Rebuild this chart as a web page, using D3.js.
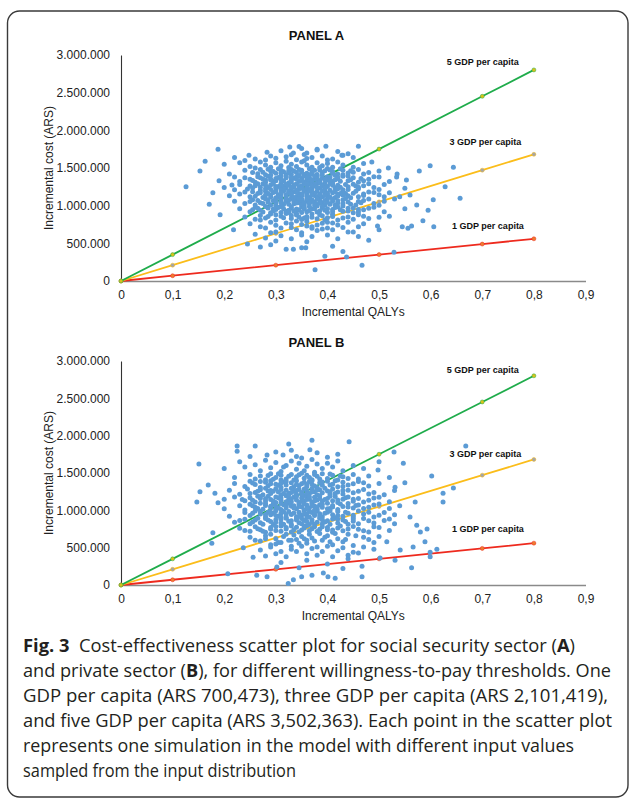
<!DOCTYPE html>
<html><head><meta charset="utf-8">
<script src="https://cdn.jsdelivr.net/npm/d3@7"></script>
<style>body{margin:0;background:#fff}svg{display:block}</style>
</head><body>
<svg id="chart" width="629" height="799"></svg>
<script>
// ---------- data ----------
const xTicks = [0, 0.1, 0.2, 0.3, 0.4, 0.5, 0.6, 0.7, 0.8, 0.9];
const yTicks = [0, 500000, 1000000, 1500000, 2000000, 2500000, 3000000];
const panelTitles = ["PANEL A", "PANEL B"];
const thresholdNames = ["1 GDP per capita", "3 GDP per capita", "5 GDP per capita"];
const thresholdSlopes = [700473, 2101419, 3502363];
const lineMarkerQalys = [0, 0.1, 0.3, 0.5, 0.7, 0.8];
const labelQalys = [0.711, 0.706, 0.701];
const labelCostsA = [730000, 1845000, 2907000];
const labelCostsB = [746000, 1755000, 2880000];

// scatter points: [incremental QALYs, incremental cost in thousands ARS]
const panelA = [
[0.188,1750],[0.283,1710],[0.327,1780],[0.334,1700],[0.38,1750],[0.397,1790],[0.46,1790],[0.43,1670],[0.38,1740],[0.35,1760],[0.31,1730],[0.42,1720],[0.36,1700],[0.345,1785],
[0.248,1670],[0.163,1590],[0.22,1640],[0.26,1620],[0.29,1660],[0.30,1630],[0.32,1650],[0.34,1610],[0.355,1680],[0.37,1640],[0.39,1660],[0.41,1620],[0.44,1690],[0.45,1640],[0.486,1580],[0.428,1670],[0.33,1675],[0.28,1605],[0.36,1625],[0.40,1605],[0.24,1600],
[0.153,1460],[0.20,1550],[0.23,1570],[0.25,1520],[0.27,1580],[0.28,1540],[0.29,1510],[0.30,1570],[0.31,1530],[0.32,1590],[0.33,1550],[0.34,1520],[0.35,1580],[0.36,1540],[0.37,1510],[0.38,1570],[0.39,1530],[0.40,1560],[0.41,1510],[0.42,1580],[0.43,1540],[0.45,1510],[0.47,1560],[0.518,1500],[0.599,1530],[0.644,1510],[0.26,1500],[0.325,1505],[0.355,1595],[0.385,1505],
[0.21,1420],[0.24,1470],[0.255,1440],[0.27,1480],[0.28,1410],[0.29,1460],[0.30,1430],[0.305,1490],[0.315,1450],[0.32,1410],[0.33,1480],[0.34,1440],[0.345,1400],[0.35,1470],[0.36,1430],[0.365,1490],[0.37,1450],[0.38,1415],[0.385,1475],[0.39,1440],[0.40,1495],[0.41,1455],[0.42,1420],[0.43,1470],[0.44,1435],[0.46,1480],[0.48,1440],[0.50,1460],[0.578,1460],[0.535,1420],[0.275,1445],[0.335,1460],[0.395,1465],[0.415,1405],[0.31,1470],[0.355,1415],
[0.19,1330],[0.22,1380],[0.25,1350],[0.26,1310],[0.27,1370],[0.28,1340],[0.285,1390],[0.295,1320],[0.30,1360],[0.31,1395],[0.315,1330],[0.32,1370],[0.325,1305],[0.33,1345],[0.34,1385],[0.345,1320],[0.35,1360],[0.355,1395],[0.36,1335],[0.365,1375],[0.37,1310],[0.375,1350],[0.38,1390],[0.385,1325],[0.39,1365],[0.395,1300],[0.40,1340],[0.405,1380],[0.41,1320],[0.42,1360],[0.43,1390],[0.44,1330],[0.45,1370],[0.46,1310],[0.48,1350],[0.50,1380],[0.534,1380],[0.553,1340],[0.29,1355],[0.335,1365],[0.345,1395],[0.365,1345],[0.415,1345],
[0.126,1250],[0.20,1240],[0.23,1280],[0.245,1220],[0.26,1265],[0.27,1205],[0.275,1290],[0.285,1240],[0.29,1275],[0.30,1215],[0.305,1255],[0.31,1295],[0.32,1230],[0.325,1270],[0.33,1210],[0.335,1250],[0.34,1290],[0.345,1225],[0.35,1265],[0.355,1205],[0.36,1245],[0.365,1285],[0.37,1220],[0.375,1260],[0.38,1300],[0.385,1235],[0.39,1275],[0.395,1215],[0.40,1255],[0.41,1290],[0.415,1230],[0.42,1270],[0.43,1210],[0.44,1250],[0.45,1285],[0.46,1225],[0.47,1265],[0.49,1240],[0.51,1280],[0.628,1250],[0.28,1225],[0.315,1260],[0.355,1290],[0.395,1260],[0.425,1245],
[0.178,1170],[0.21,1130],[0.24,1180],[0.25,1120],[0.265,1160],[0.275,1110],[0.28,1190],[0.29,1140],[0.295,1175],[0.30,1105],[0.31,1155],[0.315,1195],[0.32,1125],[0.325,1170],[0.33,1140],[0.335,1185],[0.34,1115],[0.345,1160],[0.35,1130],[0.355,1190],[0.36,1150],[0.365,1110],[0.37,1175],[0.375,1135],[0.38,1195],[0.385,1155],[0.39,1120],[0.395,1180],[0.40,1140],[0.41,1170],[0.415,1110],[0.42,1150],[0.43,1190],[0.44,1130],[0.45,1165],[0.46,1120],[0.48,1180],[0.50,1145],[0.52,1170],[0.657,1100],[0.54,1120],[0.305,1140],[0.345,1120],[0.385,1105],[0.425,1160],
[0.171,1020],[0.22,1060],[0.24,1030],[0.255,1080],[0.27,1040],[0.28,1090],[0.29,1010],[0.295,1065],[0.30,1035],[0.31,1085],[0.315,1015],[0.32,1055],[0.33,1095],[0.335,1025],[0.34,1070],[0.345,1040],[0.35,1090],[0.355,1010],[0.36,1060],[0.365,1030],[0.37,1080],[0.375,1050],[0.38,1015],[0.385,1070],[0.39,1040],[0.40,1090],[0.405,1020],[0.41,1060],[0.42,1035],[0.43,1080],[0.44,1050],[0.455,1010],[0.47,1070],[0.49,1030],[0.51,1060],[0.573,1010],[0.605,1080],[0.53,1090],[0.325,1075],[0.365,1095],[0.395,1005],
[0.23,960],[0.25,920],[0.26,980],[0.27,940],[0.285,970],[0.29,905],[0.30,950],[0.31,990],[0.32,925],[0.33,965],[0.34,900],[0.345,945],[0.35,985],[0.36,920],[0.37,960],[0.38,995],[0.385,930],[0.39,970],[0.40,910],[0.41,950],[0.42,985],[0.43,925],[0.44,965],[0.45,905],[0.47,945],[0.49,980],[0.51,920],[0.595,940],[0.55,960],[0.325,910],[0.355,955],
[0.192,880],[0.24,850],[0.26,820],[0.27,870],[0.28,835],[0.29,890],[0.30,810],[0.31,860],[0.32,895],[0.33,830],[0.34,875],[0.35,815],[0.36,855],[0.37,890],[0.38,825],[0.39,865],[0.40,840],[0.41,885],[0.42,810],[0.44,850],[0.46,880],[0.48,830],[0.585,800],[0.52,860],[0.355,835],
[0.218,680],[0.25,760],[0.27,720],[0.29,780],[0.30,740],[0.32,770],[0.33,710],[0.35,750],[0.36,790],[0.37,720],[0.39,765],[0.40,705],[0.42,745],[0.44,780],[0.46,720],[0.497,730],[0.545,720],[0.563,730],[0.556,700],[0.606,720],[0.50,680],[0.28,705],[0.34,795],
[0.245,490],[0.26,620],[0.28,570],[0.30,650],[0.31,600],[0.33,560],[0.35,640],[0.37,590],[0.38,670],[0.40,610],[0.42,560],[0.44,650],[0.46,590],[0.48,540],[0.30,530],[0.36,520],[0.41,680],
[0.27,450],[0.32,420],[0.334,420],[0.35,440],[0.358,440],[0.376,150],[0.395,330],[0.437,320],[0.467,210],[0.529,380],[0.41,460],[0.43,390],[0.29,480],
[0.285,1485],[0.325,1465],[0.345,1480],[0.375,1470],[0.405,1475],[0.425,1490],[0.445,1465],[0.295,1455],
[0.265,1425],[0.29,1405],[0.31,1435],[0.33,1415],[0.35,1445],[0.37,1425],[0.39,1405],[0.41,1430],[0.43,1410],[0.45,1445],[0.47,1420],[0.325,1440],[0.365,1410],
[0.24,1370],[0.265,1385],[0.275,1355],[0.305,1375],[0.32,1390],[0.34,1355],[0.36,1380],[0.38,1360],[0.40,1385],[0.42,1375],[0.44,1395],[0.465,1360],[0.49,1385],[0.33,1375],[0.375,1395],[0.395,1355],
[0.23,1320],[0.255,1335],[0.28,1310],[0.30,1330],[0.31,1345],[0.33,1315],[0.35,1335],[0.37,1340],[0.385,1305],[0.405,1345],[0.425,1325],[0.445,1345],[0.47,1330],[0.52,1320],[0.29,1340],[0.355,1315],
[0.215,1275],[0.25,1260],[0.265,1290],[0.28,1270],[0.295,1295],[0.31,1265],[0.32,1285],[0.335,1275],[0.345,1255],[0.36,1295],[0.375,1280],[0.39,1260],[0.405,1295],[0.42,1255],[0.435,1280],[0.455,1260],[0.48,1290],[0.30,1255],[0.37,1265],[0.41,1270],
[0.22,1210],[0.255,1235],[0.27,1245],[0.29,1215],[0.30,1240],[0.315,1225],[0.33,1245],[0.34,1205],[0.35,1230],[0.365,1215],[0.38,1245],[0.395,1230],[0.405,1205],[0.42,1225],[0.44,1215],[0.46,1245],[0.50,1215],[0.55,1230],[0.31,1210],[0.36,1235],
[0.23,1155],[0.255,1185],[0.27,1170],[0.285,1160],[0.30,1185],[0.31,1170],[0.325,1190],[0.34,1175],[0.35,1155],[0.36,1180],[0.375,1165],[0.39,1190],[0.40,1165],[0.415,1185],[0.435,1160],[0.455,1190],[0.47,1155],[0.49,1175],[0.33,1160],[0.365,1195],
[0.26,1125],[0.28,1140],[0.29,1115],[0.305,1120],[0.32,1145],[0.335,1110],[0.35,1145],[0.36,1125],[0.37,1145],[0.38,1115],[0.395,1135],[0.405,1115],[0.42,1125],[0.43,1140],[0.445,1105],[0.47,1135],[0.51,1120],[0.56,1140],[0.31,1110],[0.385,1145],
[0.25,1055],[0.265,1070],[0.285,1080],[0.30,1065],[0.31,1060],[0.32,1090],[0.335,1060],[0.35,1065],[0.36,1085],[0.37,1055],[0.38,1090],[0.395,1070],[0.41,1085],[0.42,1065],[0.435,1095],[0.46,1055],[0.48,1090],[0.30,1095],[0.345,1095],
[0.26,1010],[0.275,1030],[0.285,1045],[0.30,1005],[0.31,1040],[0.325,1020],[0.34,1035],[0.35,1015],[0.365,1045],[0.375,1010],[0.385,1035],[0.40,1045],[0.415,1010],[0.43,1030],[0.445,1020],[0.465,1040],[0.50,1005],[0.355,1040],
[0.265,965],[0.28,990],[0.295,955],[0.305,975],[0.315,960],[0.33,985],[0.34,955],[0.355,975],[0.365,990],[0.375,960],[0.39,990],[0.40,960],[0.415,975],[0.43,995],[0.45,970],[0.46,950],[0.48,965],
[0.255,945],[0.275,915],[0.295,930],[0.31,910],[0.325,940],[0.335,925],[0.35,910],[0.365,935],[0.38,915],[0.395,940],[0.41,920],[0.425,945],[0.44,930],[0.46,915],
[0.27,810],[0.285,855],[0.30,880],[0.315,840],[0.33,870],[0.345,850],[0.36,830],[0.37,845],[0.385,880],[0.395,810],[0.41,855],[0.43,835],[0.45,820],[0.47,860],[0.50,845],
[0.31,705],[0.33,760],[0.34,680],[0.36,730],[0.38,745],[0.39,690],[0.41,770],[0.43,710],[0.45,650],[0.29,640],[0.35,610],[0.37,700],[0.47,760],[0.40,780]
];

const panelB = [
[0.225,1860],[0.225,1790],[0.26,1860],[0.283,1740],[0.314,1740],[0.325,1890],[0.37,1940],[0.366,1810],[0.38,1770],[0.35,1700],[0.42,1750],[0.442,1920],[0.529,1780],[0.668,1860],[0.34,1720],[0.30,1780],[0.40,1710],[0.25,1720],[0.33,1805],
[0.151,1620],[0.20,1560],[0.23,1650],[0.24,1580],[0.26,1610],[0.27,1530],[0.28,1670],[0.29,1570],[0.30,1640],[0.31,1520],[0.32,1600],[0.33,1660],[0.34,1550],[0.345,1630],[0.36,1590],[0.37,1680],[0.375,1510],[0.38,1620],[0.39,1560],[0.40,1630],[0.41,1580],[0.42,1660],[0.43,1530],[0.45,1600],[0.47,1560],[0.498,1540],[0.547,1630],[0.50,1650],[0.355,1530],[0.315,1580],
[0.22,1440],[0.25,1480],[0.26,1420],[0.27,1460],[0.28,1410],[0.29,1490],[0.30,1440],[0.31,1470],[0.32,1420],[0.33,1480],[0.335,1405],[0.34,1450],[0.35,1495],[0.355,1430],[0.36,1470],[0.37,1410],[0.38,1455],[0.39,1490],[0.40,1425],[0.41,1470],[0.42,1405],[0.43,1450],[0.45,1480],[0.46,1420],[0.48,1460],[0.52,1440],[0.602,1460],[0.295,1415],[0.375,1480],
[0.169,1340],[0.22,1360],[0.24,1320],[0.25,1390],[0.26,1345],[0.27,1305],[0.28,1375],[0.285,1330],[0.29,1395],[0.30,1350],[0.31,1310],[0.315,1380],[0.32,1340],[0.33,1370],[0.335,1315],[0.34,1395],[0.35,1355],[0.36,1320],[0.365,1385],[0.37,1345],[0.38,1305],[0.385,1370],[0.39,1335],[0.40,1390],[0.41,1350],[0.42,1315],[0.43,1375],[0.44,1340],[0.46,1385],[0.48,1325],[0.50,1360],[0.531,1310],[0.644,1300],[0.55,1370],[0.345,1330],
[0.153,1250],[0.182,1230],[0.21,1270],[0.23,1215],[0.245,1285],[0.26,1240],[0.27,1275],[0.275,1210],[0.285,1260],[0.29,1225],[0.30,1290],[0.305,1245],[0.31,1205],[0.32,1270],[0.325,1230],[0.33,1295],[0.335,1255],[0.34,1215],[0.345,1280],[0.35,1240],[0.355,1200],[0.36,1265],[0.365,1225],[0.37,1290],[0.375,1250],[0.38,1210],[0.385,1275],[0.39,1235],[0.40,1260],[0.405,1215],[0.41,1285],[0.42,1245],[0.43,1220],[0.44,1270],[0.45,1235],[0.47,1280],[0.49,1240],[0.51,1210],[0.624,1230],[0.53,1265],[0.295,1255],
[0.147,1110],[0.188,1100],[0.20,1150],[0.22,1180],[0.24,1130],[0.25,1170],[0.26,1110],[0.27,1160],[0.28,1125],[0.285,1190],[0.29,1145],[0.30,1105],[0.305,1170],[0.31,1135],[0.32,1195],[0.325,1150],[0.33,1115],[0.335,1180],[0.34,1140],[0.345,1105],[0.35,1165],[0.355,1130],[0.36,1190],[0.365,1150],[0.37,1110],[0.375,1175],[0.38,1140],[0.385,1195],[0.39,1120],[0.40,1160],[0.41,1130],[0.415,1185],[0.42,1105],[0.43,1150],[0.44,1180],[0.45,1120],[0.46,1160],[0.48,1135],[0.50,1175],[0.52,1115],[0.57,1110],[0.624,1110],[0.265,1190],
[0.20,1020],[0.23,1060],[0.24,1005],[0.25,1080],[0.26,1040],[0.27,1095],[0.275,1015],[0.28,1065],[0.29,1030],[0.295,1085],[0.30,1050],[0.31,1010],[0.315,1075],[0.32,1035],[0.325,1095],[0.33,1055],[0.34,1020],[0.345,1080],[0.35,1045],[0.355,1005],[0.36,1070],[0.365,1030],[0.37,1090],[0.375,1055],[0.38,1015],[0.385,1075],[0.39,1040],[0.40,1095],[0.405,1025],[0.41,1065],[0.42,1010],[0.43,1050],[0.44,1090],[0.45,1030],[0.46,1070],[0.48,1040],[0.50,1085],[0.52,1025],[0.54,1060],[0.335,1060],
[0.21,920],[0.24,970],[0.25,930],[0.26,990],[0.27,950],[0.28,910],[0.285,975],[0.29,940],[0.30,995],[0.305,920],[0.31,960],[0.32,905],[0.325,985],[0.33,945],[0.34,915],[0.345,975],[0.35,935],[0.355,995],[0.36,950],[0.365,910],[0.37,970],[0.375,930],[0.38,990],[0.385,955],[0.39,915],[0.40,975],[0.41,940],[0.415,900],[0.42,985],[0.43,920],[0.44,960],[0.45,935],[0.46,990],[0.47,950],[0.49,910],[0.51,970],[0.56,910],[0.53,940],[0.295,960],
[0.22,840],[0.24,880],[0.25,820],[0.26,870],[0.27,835],[0.28,890],[0.29,850],[0.295,810],[0.30,875],[0.31,830],[0.32,895],[0.325,855],[0.33,815],[0.34,870],[0.345,835],[0.35,890],[0.36,850],[0.365,810],[0.37,875],[0.38,840],[0.385,895],[0.39,820],[0.40,860],[0.41,885],[0.42,830],[0.43,870],[0.44,815],[0.45,855],[0.47,890],[0.49,830],[0.51,865],[0.573,800],[0.53,820],
[0.178,700],[0.23,760],[0.25,720],[0.26,780],[0.27,740],[0.28,705],[0.29,770],[0.30,730],[0.31,790],[0.32,750],[0.33,710],[0.34,775],[0.35,735],[0.36,795],[0.37,755],[0.38,715],[0.39,780],[0.40,740],[0.41,705],[0.42,765],[0.43,725],[0.45,785],[0.46,745],[0.48,710],[0.50,770],[0.52,730],[0.593,750],[0.58,710],[0.355,765],
[0.176,560],[0.237,500],[0.25,640],[0.27,590],[0.28,660],[0.29,540],[0.30,620],[0.31,570],[0.32,680],[0.33,520],[0.34,610],[0.35,650],[0.36,560],[0.37,630],[0.38,510],[0.39,600],[0.40,660],[0.41,540],[0.42,620],[0.43,580],[0.44,680],[0.45,530],[0.47,640],[0.49,570],[0.515,580],[0.589,580],[0.566,510],[0.541,470],[0.33,600],[0.385,690],
[0.207,150],[0.256,370],[0.263,130],[0.283,110],[0.324,20],[0.334,70],[0.35,110],[0.302,240],[0.563,230],[0.612,480],[0.599,440],[0.599,380],[0.502,360],[0.467,110],[0.467,250],[0.415,90],[0.401,110],[0.392,160],[0.37,130],[0.531,330],[0.30,420],[0.34,450],[0.36,330],[0.38,400],[0.42,460],[0.44,350],[0.46,430],[0.49,480],[0.31,300],[0.40,280],[0.43,220],[0.345,230],
[0.285,1465],[0.305,1490],[0.325,1455],[0.345,1475],[0.365,1440],[0.385,1420],[0.405,1485],[0.425,1460],[0.44,1425],[0.31,1405],
[0.255,1365],[0.27,1385],[0.29,1355],[0.305,1335],[0.32,1385],[0.34,1345],[0.355,1375],[0.37,1395],[0.375,1325],[0.39,1380],[0.405,1340],[0.415,1395],[0.43,1320],[0.45,1355],[0.47,1370],[0.31,1365],[0.36,1345],
[0.25,1225],[0.265,1255],[0.28,1295],[0.29,1265],[0.31,1280],[0.315,1225],[0.33,1240],[0.34,1265],[0.355,1285],[0.36,1225],[0.37,1245],[0.38,1275],[0.395,1295],[0.405,1250],[0.415,1225],[0.43,1265],[0.46,1255],[0.48,1220],[0.325,1205],[0.35,1215],
[0.235,1145],[0.255,1135],[0.27,1185],[0.28,1155],[0.295,1125],[0.31,1165],[0.32,1115],[0.33,1155],[0.34,1185],[0.35,1120],[0.36,1145],[0.375,1125],[0.385,1160],[0.395,1145],[0.405,1190],[0.42,1140],[0.435,1170],[0.45,1150],[0.47,1110],[0.49,1165],[0.30,1180],[0.365,1180],
[0.255,1060],[0.265,1025],[0.28,1090],[0.29,1055],[0.305,1035],[0.31,1090],[0.32,1060],[0.335,1030],[0.345,1050],[0.355,1085],[0.36,1025],[0.37,1060],[0.38,1045],[0.39,1080],[0.40,1020],[0.41,1045],[0.425,1085],[0.44,1045],[0.455,1065],[0.47,1025],[0.49,1070],[0.30,1010],[0.375,1005],
[0.255,960],[0.27,985],[0.28,945],[0.29,975],[0.30,930],[0.315,985],[0.32,945],[0.335,965],[0.345,920],[0.355,950],[0.365,985],[0.375,950],[0.385,925],[0.395,960],[0.405,995],[0.42,930],[0.435,975],[0.45,910],[0.48,975],[0.50,935],[0.31,910],[0.36,905],
[0.23,865],[0.255,845],[0.265,895],[0.275,815],[0.285,870],[0.30,845],[0.31,880],[0.315,815],[0.33,860],[0.34,895],[0.35,820],[0.355,865],[0.37,845],[0.375,810],[0.39,875],[0.395,845],[0.405,815],[0.42,885],[0.435,850],[0.45,885],[0.46,820],[0.48,860],[0.52,885],
[0.24,730],[0.265,755],[0.275,720],[0.29,745],[0.30,785],[0.31,720],[0.32,770],[0.335,740],[0.345,710],[0.355,790],[0.365,725],[0.375,780],[0.385,745],[0.40,770],[0.41,735],[0.425,790],[0.44,750],[0.47,725],[0.49,780],[0.33,790],
[0.26,600],[0.28,620],[0.29,680],[0.305,570],[0.315,650],[0.325,600],[0.335,670],[0.345,560],[0.355,620],[0.365,680],[0.375,590],[0.395,640],[0.405,580],[0.415,690],[0.435,610],[0.455,660],[0.48,610],[0.50,650],[0.30,550],[0.36,600],
[0.27,470],[0.29,510],[0.31,450],[0.33,480],[0.35,520],[0.36,420],[0.37,490],[0.39,450],[0.40,520],[0.41,380],[0.43,500],[0.45,440],[0.47,510],[0.32,380],[0.28,390],[0.44,400]
];

const captionLines = [
  [["Fig. 3", true], ["  Cost-effectiveness scatter plot for social security sector (", false], ["A", true], [")", false]],
  [["and private sector (", false], ["B", true], ["), for different willingness-to-pay thresholds. One", false]],
  [["GDP per capita (ARS 700,473), three GDP per capita (ARS 2,101,419),", false]],
  [["and five GDP per capita (ARS 3,502,363). Each point in the scatter plot", false]],
  [["represents one simulation in the model with different input values", false]],
  [["sampled from the input distribution", false]]
];
const captionWidths = [552, 588, 585, 589, 551, 273];

// ---------- styles ----------
const lineColors = ["#ee2a1e", "#fbbd1a", "#1fac4b"];
const markerColors = ["#ed7d31", "#a5a5a5", "#d7c21a"];
const pointColor = "#5b9bd5";

const locale = d3.formatLocale({decimal: ",", thousands: ".", grouping: [3], currency: ["", ""]});
const fmtY = locale.format(",");
const fmtX = v => v === 0 ? "0" : locale.format(".1f")(v);

const svg = d3.select("#chart");
svg.append("rect").attr("x", 7.5).attr("y", 11).attr("width", 620.5).attr("height", 786)
  .attr("rx", 12).attr("fill", "none").attr("stroke", "#3a3a3a").attr("stroke-width", 1.4);

const panels = [
  {data: panelA, title: panelTitles[0], top: 55, bottom: 281, labelCosts: labelCostsA, titleY: 40},
  {data: panelB, title: panelTitles[1], top: 361, bottom: 585, labelCosts: labelCostsB, titleY: 346.5}
];
const left = 121, right = 585.5;
const font = "'Liberation Sans', Arial, sans-serif";

panels.forEach(p => {
  const g = svg.append("g");
  const x = d3.scaleLinear().domain([0, 0.9]).range([left, right]);
  const y = d3.scaleLinear().domain([0, 3000000]).range([p.bottom, p.top]);

  g.append("text").attr("x", 316.5).attr("y", p.titleY).attr("text-anchor", "middle")
    .attr("font-family", font).attr("font-weight", "bold").attr("font-size", 13).attr("fill", "#111").text(p.title);

  const ya = g.append("g").attr("transform", `translate(${left},0)`)
    .call(d3.axisLeft(y).tickValues(yTicks).tickFormat(fmtY).tickSize(0).tickPadding(11));
  ya.select(".domain").attr("stroke", "#333").attr("stroke-width", 1.1);
  ya.selectAll("text").attr("font-family", font).attr("font-size", 12).attr("fill", "#222");

  const xa = g.append("g").attr("transform", `translate(0,${p.bottom})`)
    .call(d3.axisBottom(x).tickValues(xTicks).tickFormat(fmtX).tickSize(0).tickPadding(9));
  xa.select(".domain").attr("stroke", "#8a8a8a").attr("stroke-width", 1.6);
  xa.selectAll("text").attr("font-family", font).attr("font-size", 12).attr("fill", "#222");

  g.append("text").attr("x", (left + right) / 2).attr("y", p.bottom + 35).attr("text-anchor", "middle")
    .attr("font-family", font).attr("font-size", 12).attr("fill", "#222").text("Incremental QALYs");
  g.append("text").attr("transform", `translate(49,${(p.top + p.bottom) / 2}) rotate(-90)`)
    .attr("text-anchor", "middle").attr("dy", "0.35em")
    .attr("font-family", font).attr("font-size", 12).attr("fill", "#222").text("Incremental cost (ARS)");

  thresholdSlopes.forEach((s, i) => {
    const pts = lineMarkerQalys.map(q => [q, q * s]);
    g.append("path").datum(pts)
      .attr("d", d3.line().x(d => x(d[0])).y(d => y(d[1])))
      .attr("fill", "none").attr("stroke", lineColors[i]).attr("stroke-width", 1.8);
    g.selectAll(null).data(pts).enter().append("circle")
      .attr("cx", d => x(d[0])).attr("cy", d => y(d[1])).attr("r", 2)
      .attr("fill", markerColors[i]).attr("stroke", lineColors[i]).attr("stroke-width", 0.5);
    g.append("text").attr("x", x(labelQalys[i])).attr("y", y(p.labelCosts[i])).attr("dy", "0.35em")
      .attr("text-anchor", "middle").attr("font-family", font).attr("font-weight", "bold")
      .attr("font-size", 9).attr("fill", "#111").text(thresholdNames[i]);
  });

  g.selectAll(null).data(p.data).enter().append("circle")
    .attr("cx", d => x(d[0])).attr("cy", d => y(d[1] * 1000)).attr("r", 2.5)
    .attr("fill", pointColor);
});

const capY0 = 652, capStep = 25;
captionLines.forEach((line, i) => {
  const t = svg.append("text").attr("x", 23).attr("y", capY0 + i * capStep)
    .attr("font-family", "'Open Sans', 'Noto Sans', sans-serif").attr("font-size", 17.5).attr("fill", "#231f20")
    .attr("textLength", captionWidths[i]).attr("lengthAdjust", "spacingAndGlyphs")
    .attr("xml:space", "preserve").style("white-space", "pre");
  line.forEach(([s, b]) => t.append("tspan").attr("font-weight", b ? "bold" : "normal").text(s));
});
</script>
</body></html>
